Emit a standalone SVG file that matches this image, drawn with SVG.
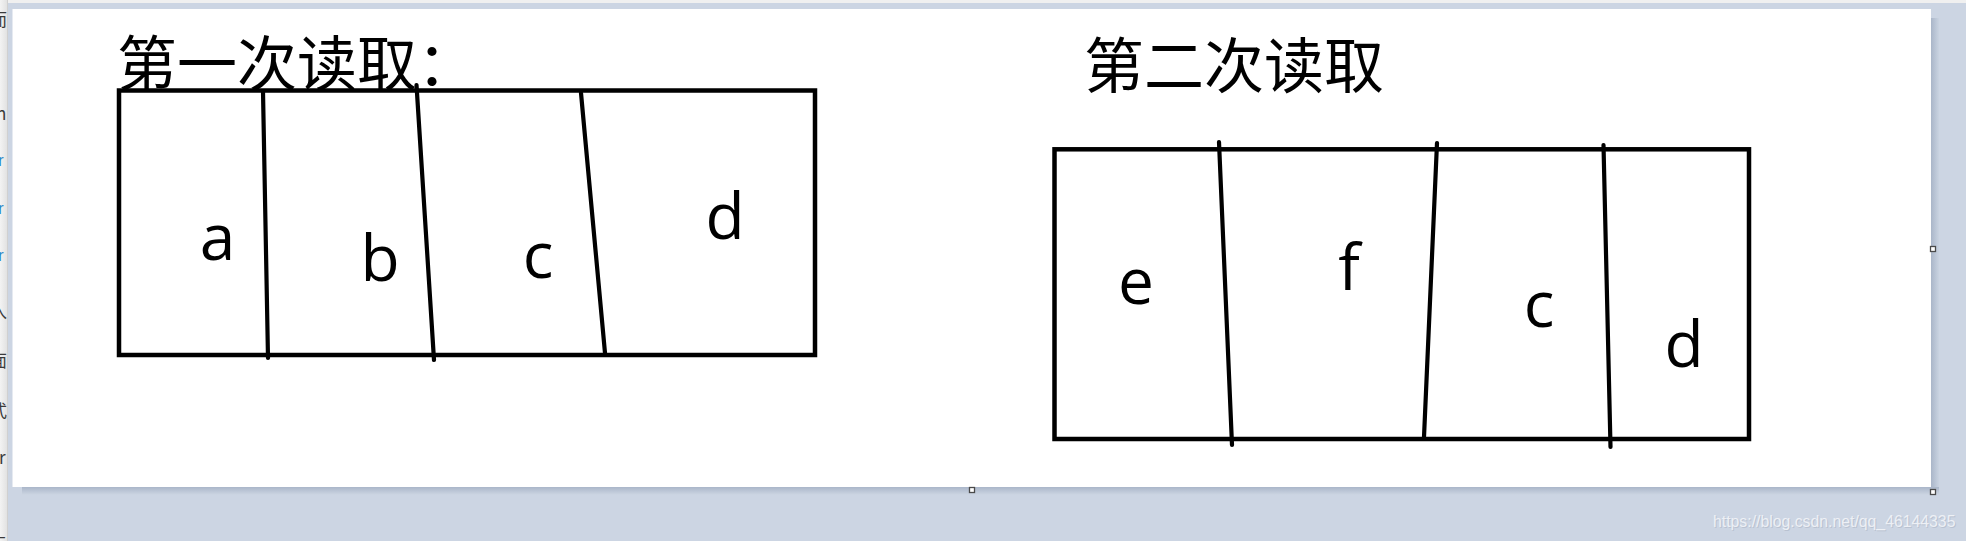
<svg xmlns="http://www.w3.org/2000/svg" width="1966" height="541" viewBox="0 0 1966 541">
  <defs>
    <style>
      .frame { fill: none; stroke: #000; stroke-width: 4.5; }
      .div { stroke: #000; stroke-width: 4.2; stroke-linecap: round; fill: none; }
      .lbl { font-family: "Open Sans", "Noto Sans", sans-serif; font-size: 64px; fill: #000; text-anchor: middle; }
      .title { font-family: "Noto Sans CJK SC", "Noto Sans", sans-serif; font-size: 60px; fill: #000; }
      .frag { font-family: "Noto Sans CJK SC", "Noto Sans", sans-serif; font-size: 17px; fill: #3a3a3a; }
      .fragb { font-family: "Liberation Sans", sans-serif; font-size: 17px; fill: #2a86c8; }
      .wm { font-family: "Liberation Sans", Arial, sans-serif; font-size: 15.8px; }
      .handle { fill: #fff; stroke: #4a4a4a; stroke-width: 1.3; }
    </style>
    <linearGradient id="shR" x1="0" y1="0" x2="1" y2="0">
      <stop offset="0" stop-color="#aab6c9"/>
      <stop offset="1" stop-color="#c9d3e1"/>
    </linearGradient>
    <linearGradient id="shB" x1="0" y1="0" x2="0" y2="1">
      <stop offset="0" stop-color="#aab6c9"/>
      <stop offset="1" stop-color="#cdd6e3"/>
    </linearGradient>
    <linearGradient id="strip" x1="0" y1="0" x2="1" y2="0">
      <stop offset="0" stop-color="#f3f3f3"/>
      <stop offset="1" stop-color="#e2e2e2"/>
    </linearGradient>
    <clipPath id="stripClip">
      <rect x="0" y="0" width="7" height="541"/>
    </clipPath>
  </defs>

  <g id="background">
    <rect x="0" y="0" width="1966" height="541" fill="#ccd5e3"/>
    <rect x="0" y="0" width="1966" height="3" fill="#f0f0f0"/>
    <rect x="0" y="0" width="7" height="541" fill="url(#strip)"/>
    <rect x="7" y="0" width="1" height="541" fill="#d0d0d0"/>
    <g clip-path="url(#stripClip)">
      <text class="frag" x="-10" y="26">而</text>
      <text class="frag" x="-4" y="120">n</text>
      <text class="fragb" x="-2" y="166">r</text>
      <text class="fragb" x="-2" y="214">r</text>
      <text class="fragb" x="-2" y="261">r</text>
      <text class="frag" x="-10" y="318">入</text>
      <text class="frag" x="-10" y="367">面</text>
      <text class="frag" x="-10" y="417">式</text>
      <text class="frag" x="-1" y="464">r</text>
      <text class="frag" x="-10" y="546">上</text>
    </g>
    <rect x="1931" y="18" width="8" height="477" fill="url(#shR)"/>
    <rect x="22" y="487" width="1917" height="8" fill="url(#shB)"/>
    <rect x="12.5" y="9" width="1918.5" height="478" fill="#ffffff"/>
    <rect class="handle" x="969.5" y="487.5" width="5" height="5"/>
    <rect class="handle" x="1930.5" y="246.5" width="5" height="5"/>
    <rect class="handle" x="1930.5" y="489.5" width="5" height="5"/>
    <text class="wm" x="1714" y="528" fill="#aeb7c6" opacity="0.6">https://blog.csdn.net/qq_46144335</text>
    <text class="wm" x="1713" y="527" fill="#f4f6fa" opacity="0.85">https://blog.csdn.net/qq_46144335</text>
  </g>

  <g id="title1">
    <text class="title" x="117" y="86">第一次读取：</text>
  </g>
  <g id="title2">
    <text class="title" x="1084" y="88">第二次读取</text>
  </g>

  <g id="block1">
    <rect class="frame" x="119" y="90.5" width="696" height="264.5"/>
    <text class="lbl" x="217.5" y="260">a</text>
    <text class="lbl" x="380" y="281">b</text>
    <text class="lbl" x="538" y="278">c</text>
    <text class="lbl" x="725" y="239">d</text>
  </g>

  <g id="block2">
    <rect class="frame" x="1054.5" y="149.3" width="694.5" height="289.7"/>
    <text class="lbl" x="1136" y="304">e</text>
    <text class="lbl" x="1349" y="290">f</text>
    <text class="lbl" x="1539" y="327">c</text>
    <text class="lbl" x="1684" y="367">d</text>
  </g>

  <g id="connectors">
    <line class="div" x1="263" y1="91.5" x2="268" y2="358"/>
    <line class="div" x1="416.5" y1="85" x2="434" y2="360"/>
    <line class="div" x1="581" y1="93" x2="605" y2="353"/>
    <line class="div" x1="1219" y1="142" x2="1232" y2="445"/>
    <line class="div" x1="1437" y1="143" x2="1424" y2="437"/>
    <line class="div" x1="1603.5" y1="145" x2="1610.5" y2="447"/>
  </g>
</svg>
